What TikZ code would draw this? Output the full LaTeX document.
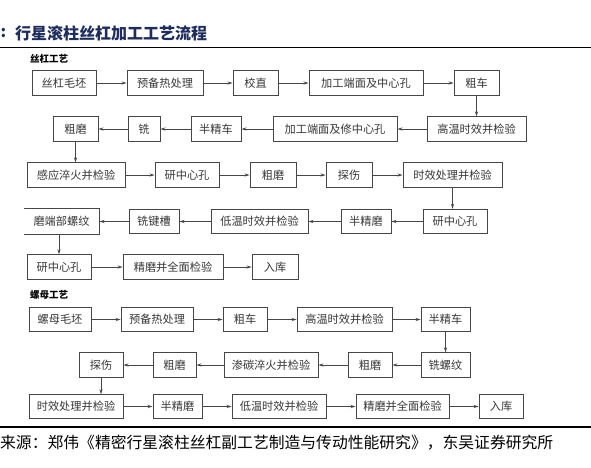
\documentclass[tikz,border=0pt]{standalone}
\usepackage{fontspec}
\setmainfont{Noto Sans CJK SC}
\usetikzlibrary{arrows.meta}
\definecolor{navy}{RGB}{30,45,95}
\definecolor{boxline}{RGB}{70,70,70}
\definecolor{boxtext}{RGB}{55,55,55}
\tikzset{
  pbox/.style={draw=boxline, line width=0.9pt, inner sep=0pt, minimum height=24.5pt,
    text=boxtext, font=\fontsize{11.2}{13}\selectfont},
  arr/.style={draw=boxline, line width=0.8pt, -{Stealth[length=5pt,width=3.2pt]}},
  sect/.style={inner sep=0pt, anchor=west, font=\fontsize{9.5}{11}\selectfont\bfseries},
  rule/.style={line width=1.6pt, black}
}
\begin{document}
\begin{tikzpicture}[x=1pt,y=-1pt]
\useasboundingbox (0,0) rectangle (591,467);
\fill[white] (0,0) rectangle (591,467);
% title
\node[inner sep=0pt, anchor=west, text=navy, font=\fontsize{16}{18}\selectfont\bfseries] (tcolon) at (0.5,33) {:};
\node[inner sep=0pt, anchor=west, text=navy, font=\fontsize{16}{18}\selectfont\bfseries] (title) at (15,33) {行星滚柱丝杠加工工艺流程};
\coordinate (r1a) at (0,47.5); \coordinate (r1b) at (591,47.5);
\draw[rule] (r1a) -- (r1b);
% screw
\node[sect] (s1) at (30,59) {丝杠工艺};
\node[pbox, minimum width=64pt] (sg1) at (64,83) {丝杠毛坯};
\node[pbox, minimum width=76pt] (sg2) at (165,83) {预备热处理};
\node[pbox, minimum width=45pt] (sg3) at (255.5,83) {校直};
\node[pbox, minimum width=114pt] (sg4) at (366,83) {加工端面及中心孔};
\node[pbox, minimum width=45pt] (sg5) at (476.5,83) {粗车};
\node[pbox, minimum width=99pt] (sg6) at (476.5,129) {高温时效并检验};
\node[pbox, minimum width=124pt] (sg7) at (335,129) {加工端面及修中心孔};
\node[pbox, minimum width=50pt] (sg8) at (216,129) {半精车};
\node[pbox, minimum width=32pt] (sg9) at (144,129) {铣};
\node[pbox, minimum width=45pt] (sg10) at (75.5,129) {粗磨};
\node[pbox, minimum width=98pt] (sg11) at (76,175) {感应淬火并检验};
\node[pbox, minimum width=64pt] (sg12) at (187,175) {研中心孔};
\node[pbox, minimum width=46pt] (sg13) at (273,175) {粗磨};
\node[pbox, minimum width=46pt] (sg14) at (349,175) {探伤};
\node[pbox, minimum width=99pt] (sg15) at (452.5,175) {时效处理并检验};
\node[pbox, minimum width=64pt] (sg16) at (455,221.5) {研中心孔};
\node[pbox, minimum width=50pt] (sg17) at (366,221.5) {半精磨};
\node[pbox, minimum width=97pt] (sg18) at (259.5,221.5) {低温时效并检验};
\node[pbox, minimum width=50pt] (sg19) at (154,221.5) {铣键槽};
\node[pbox, draw=none, minimum width=75pt] (sg20) at (61.5,221.5) {磨端部螺纹};
\draw[boxline, line width=0.9pt] (sg20.north west) -- (sg20.north east) -- (sg20.south east) -- (sg20.south west);
\node[pbox, minimum width=64pt] (sg21) at (59,267) {研中心孔};
\node[pbox, minimum width=100pt] (sg22) at (173,267) {精磨并全面检验};
\node[pbox, minimum width=46pt] (sg23) at (275,267) {入库};
\draw[arr] (sg1) -- (sg2);
\draw[arr] (sg2) -- (sg3);
\draw[arr] (sg3) -- (sg4);
\draw[arr] (sg4) -- (sg5);
\draw[arr] (sg5) -- (sg6);
\draw[arr] (sg6) -- (sg7);
\draw[arr] (sg7) -- (sg8);
\draw[arr] (sg8) -- (sg9);
\draw[arr] (sg9) -- (sg10);
\draw[arr] (sg10.south) -- (sg10.south |- sg11.north);
\draw[arr] (sg11) -- (sg12);
\draw[arr] (sg12) -- (sg13);
\draw[arr] (sg13) -- (sg14);
\draw[arr] (sg14) -- (sg15);
\draw[arr] (sg15.south) -- (sg15.south |- sg16.north);
\draw[arr] (sg16) -- (sg17);
\draw[arr] (sg17) -- (sg18);
\draw[arr] (sg18) -- (sg19);
\draw[arr] (sg19) -- (sg20);
\draw[arr] (sg21.north |- sg20.south) -- (sg21.north);
\draw[arr] (sg21) -- (sg22);
\draw[arr] (sg22) -- (sg23);
% nut
\node[sect] (s2) at (30,295) {螺母工艺};
\node[pbox, minimum width=62pt] (lm1) at (60,319.5) {螺母毛坯};
\node[pbox, minimum width=72pt] (lm2) at (157,319.5) {预备热处理};
\node[pbox, minimum width=44pt] (lm3) at (245,319.5) {粗车};
\node[pbox, minimum width=95pt] (lm4) at (344.5,319.5) {高温时效并检验};
\node[pbox, minimum width=49pt] (lm5) at (445.5,319.5) {半精车};
\node[pbox, minimum width=49pt] (lm6) at (445.5,365) {铣螺纹};
\node[pbox, minimum width=44pt] (lm7) at (370,365) {粗磨};
\node[pbox, minimum width=94pt] (lm8) at (271,365) {渗碳淬火并检验};
\node[pbox, minimum width=43pt] (lm9) at (174.5,365) {粗磨};
\node[pbox, minimum width=44pt] (lm10) at (101,365) {探伤};
\node[pbox, minimum width=94pt, minimum height=23.5pt] (lm11) at (76,406.5) {时效处理并检验};
\node[pbox, minimum width=49pt, minimum height=23.5pt] (lm12) at (177.5,406.5) {半精磨};
\node[pbox, minimum width=94pt, minimum height=23.5pt] (lm13) at (279,406.5) {低温时效并检验};
\node[pbox, minimum width=93pt, minimum height=23.5pt] (lm14) at (402.5,406.5) {精磨并全面检验};
\node[pbox, minimum width=44pt, minimum height=23.5pt] (lm15) at (501,406.5) {入库};
\draw[arr] (lm1) -- (lm2);
\draw[arr] (lm2) -- (lm3);
\draw[arr] (lm3) -- (lm4);
\draw[arr] (lm4) -- (lm5);
\draw[arr] (lm5) -- (lm6);
\draw[arr] (lm6) -- (lm7);
\draw[arr] (lm7) -- (lm8);
\draw[arr] (lm8) -- (lm9);
\draw[arr] (lm9) -- (lm10);
\draw[arr] (lm10.south) -- (lm10.south |- lm11.north);
\draw[arr] (lm11) -- (lm12);
\draw[arr] (lm12) -- (lm13);
\draw[arr] (lm13) -- (lm14);
\draw[arr] (lm14) -- (lm15);
% bottom
\coordinate (r2a) at (0,427); \coordinate (r2b) at (591,427);
\draw[line width=1.3pt, black] (r2a) -- (r2b);
\node[inner sep=0pt, anchor=west, font=\fontsize{15.8}{17}\selectfont] (src) at (0,443) {来源：郑伟《精密行星滚柱丝杠副工艺制造与传动性能研究》，东吴证券研究所};
\end{tikzpicture}
\end{document}
